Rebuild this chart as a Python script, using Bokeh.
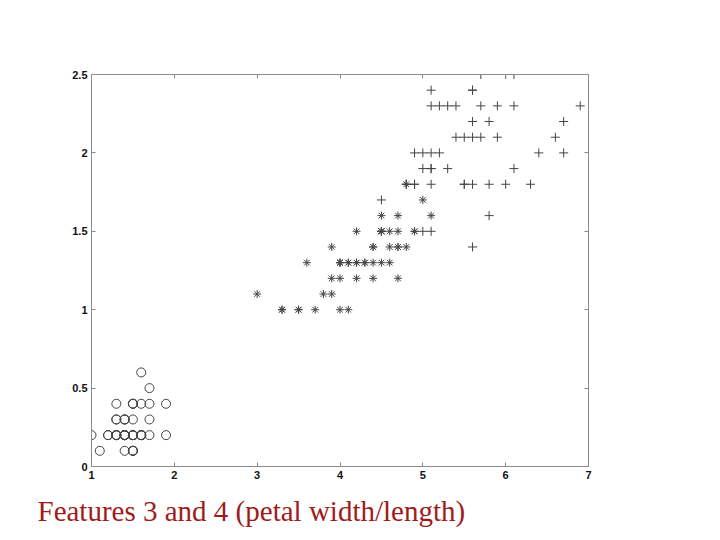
from bokeh.plotting import figure
from bokeh.models import LinearAxis, Range1d, FixedTicker, Title
from bokeh.embed import file_html
from bokeh.resources import INLINE

# Iris petal length (x) and petal width (y)
setosa_len = [1.4,1.4,1.3,1.5,1.4,1.7,1.4,1.5,1.4,1.5,1.5,1.6,1.4,1.1,1.2,1.5,1.3,1.4,1.7,1.5,
              1.7,1.5,1.0,1.7,1.9,1.6,1.6,1.5,1.4,1.6,1.6,1.5,1.5,1.4,1.5,1.2,1.3,1.5,1.3,1.5,
              1.3,1.3,1.3,1.6,1.9,1.4,1.6,1.4,1.5,1.4]
setosa_wid = [0.2,0.2,0.2,0.2,0.2,0.4,0.3,0.2,0.2,0.1,0.2,0.2,0.1,0.1,0.2,0.4,0.4,0.3,0.3,0.3,
              0.2,0.4,0.2,0.5,0.2,0.2,0.4,0.2,0.2,0.2,0.2,0.4,0.1,0.2,0.1,0.2,0.2,0.1,0.2,0.2,
              0.3,0.3,0.2,0.6,0.4,0.3,0.2,0.2,0.2,0.2]
versi_len = [4.7,4.5,4.9,4.0,4.6,4.5,4.7,3.3,4.6,3.9,3.5,4.2,4.0,4.7,3.6,4.4,4.5,4.1,4.5,3.9,
             4.8,4.0,4.9,4.7,4.3,4.4,4.8,5.0,4.5,3.5,3.8,3.7,3.9,5.1,4.5,4.5,4.7,4.4,4.1,4.0,
             4.4,4.6,4.0,3.3,4.2,4.2,4.2,4.3,3.0,4.1]
versi_wid = [1.4,1.5,1.5,1.3,1.5,1.3,1.6,1.0,1.3,1.4,1.0,1.5,1.0,1.4,1.3,1.4,1.5,1.0,1.5,1.1,
             1.8,1.3,1.5,1.2,1.3,1.4,1.4,1.7,1.5,1.0,1.1,1.0,1.2,1.6,1.5,1.6,1.5,1.3,1.3,1.3,
             1.2,1.4,1.2,1.0,1.3,1.2,1.3,1.3,1.1,1.3]
virg_len = [6.0,5.1,5.9,5.6,5.8,6.6,4.5,6.3,5.8,6.1,5.1,5.3,5.5,5.0,5.1,5.3,5.5,6.7,6.9,5.0,
            5.7,4.9,6.7,4.9,5.7,6.0,4.8,4.9,5.6,5.8,6.1,6.4,5.6,5.1,5.6,6.1,5.6,5.5,4.8,5.4,
            5.6,5.1,5.1,5.9,5.7,5.2,5.0,5.2,5.4,5.1]
virg_wid = [2.5,1.9,2.1,1.8,2.2,2.1,1.7,1.8,1.8,2.5,2.0,1.9,2.1,2.0,2.4,2.3,1.8,2.2,2.3,1.5,
            2.3,2.0,2.0,1.8,2.1,1.8,1.8,1.8,2.1,1.6,1.9,2.0,2.2,1.5,1.4,2.3,2.4,1.8,1.8,2.1,
            2.4,2.3,1.9,2.3,2.5,2.3,1.9,2.0,2.3,1.8]

x_ticks = [1, 2, 3, 4, 5, 6, 7]
y_ticks = [0, 0.5, 1, 1.5, 2, 2.5]
title_text = "Features 3 and 4 (petal width/length)"

p = figure(width=700, height=540, output_backend="svg", toolbar_location=None,
           x_range=Range1d(1, 7), y_range=Range1d(0, 2.5),
           min_border_left=91, min_border_right=112, min_border_top=74, min_border_bottom=74)
p.grid.visible = False
p.outline_line_color = None

mc = "#444444"
p.scatter(setosa_len, setosa_wid, marker="circle", size=9, fill_color=None, line_color=mc, line_width=1)
p.scatter(versi_len, versi_wid, marker="asterisk", size=8, line_color=mc, line_width=1)
p.scatter(virg_len, virg_wid, marker="cross", size=9, line_color=mc, line_width=1)

def style(ax):
    ax.axis_line_color = "#8a8a8a"
    ax.major_tick_line_color = "#8a8a8a"
    ax.major_tick_in = 4
    ax.major_tick_out = 0
    ax.minor_tick_line_color = None
    ax.major_label_text_font = "Liberation Sans"
    ax.major_label_text_font_size = "11px"
    ax.major_label_text_font_style = "bold"
    ax.major_label_text_color = "#111111"

p.xaxis.ticker = FixedTicker(ticks=x_ticks)
p.yaxis.ticker = FixedTicker(ticks=y_ticks)
style(p.xaxis[0]); style(p.yaxis[0])
p.xaxis.major_label_standoff = 4
p.yaxis.major_label_standoff = 4

top = LinearAxis(ticker=FixedTicker(ticks=x_ticks),
                 major_label_overrides={t: "" for t in x_ticks})
right = LinearAxis(ticker=FixedTicker(ticks=y_ticks),
                   major_label_overrides={t: "" for t in y_ticks})
style(top); style(right)
p.add_layout(top, "above")
p.add_layout(right, "right")

t = Title(text=title_text, align="left", offset=-54, standoff=22, text_font="Liberation Serif",
          text_font_size="29px", text_font_style="normal", text_color="#a01c1c")
p.add_layout(t, "below")

open("out.html", "w").write(file_html(p, INLINE))
